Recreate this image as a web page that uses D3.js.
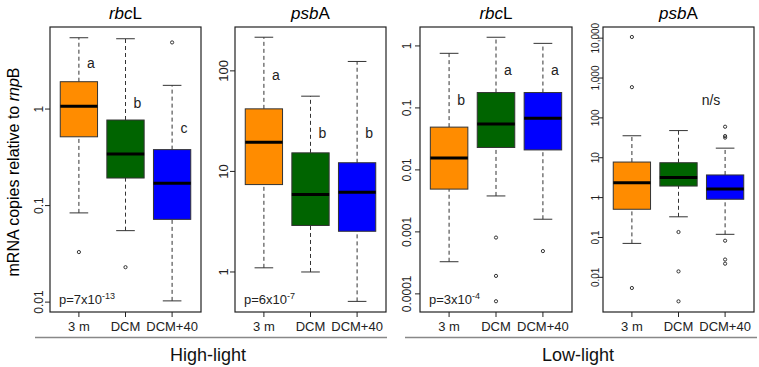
<!DOCTYPE html>
<html>
<head>
<meta charset="utf-8">
<script src="https://cdn.jsdelivr.net/npm/d3@7"></script>
<style>
  body { margin: 0; background: #fff; }
  svg { font-family: "Liberation Sans", Arial, sans-serif; }
</style>
</head>
<body>
<div id="chart"></div>
<script>
// groups and colours
const groups = ["3 m", "DCM", "DCM+40"];
const boxColors = ["#FF8C00", "#006400", "#0000FF"];

// five-number summaries per group: [lower whisker, Q1, median, Q3, upper whisker]
const rbcHigh = [[0.084, 0.516, 1.07, 1.92, 5.48], [0.055, 0.193, 0.342, 0.77, 5.35], [0.0103, 0.072, 0.17, 0.38, 1.76]];
const rbcHighOut = [[0.033], [0.023], [4.9]];
const psbHigh = [[1.1, 7.4, 19.5, 41.9, 216], [1.0, 2.9, 5.9, 15.3, 56], [0.51, 2.54, 6.2, 12.2, 124]];
const psbHighOut = [[], [], []];
const rbcLow = [[0.00033, 0.0049, 0.0155, 0.049, 0.76], [0.0038, 0.023, 0.055, 0.177, 1.38], [0.0016, 0.021, 0.068, 0.177, 1.10]];
const rbcLowOut = [[], [0.00081, 0.000195, 0.000076], [0.00049]];
const psbLow = [[0.071, 0.51, 2.35, 7.8, 35.6], [0.33, 1.95, 3.2, 7.5, 48], [0.12, 0.91, 1.65, 3.7, 17.4]];
const psbLowOut = [[10700, 590, 0.0054], [0.137, 0.0141, 0.0025], [60, 35, 32, 0.083, 0.028, 0.022]];

// significance letters: [text, group position, value]
const rbcHighLetters = [["a", 1, 3.0], ["b", 2, 1.15], ["c", 3, 0.635]];
const psbHighLetters = [["a", 1, 91], ["b", 2, 24], ["b", 3, 24]];
const rbcLowLetters = [["b", 1, 0.135], ["a", 2, 0.40], ["a", 3, 0.40]];
const psbLowLetters = [["n/s", 2.44, 280]];

const panels = [
  { left: 50, right: 201, dom: [0.0079, 7.08], ticks: [0.01, 0.1, 1], tickLab: ["0.01", "0.1", "1"], tfs: 12, toff: 11,
    stats: rbcHigh, outs: rbcHighOut, gene: ["rbc", "L"], p: ["p=7x10", "-13"], letters: rbcHighLetters },
  { left: 235, right: 386, dom: [0.40, 273], ticks: [1, 10, 100], tickLab: ["1", "10", "100"], tfs: 13, toff: 12,
    stats: psbHigh, outs: psbHighOut, gene: ["psb", "A"], p: ["p=6x10", "-7"], letters: psbHighLetters },
  { left: 420, right: 572, dom: [5.1e-5, 2.02], ticks: [0.0001, 0.001, 0.01, 0.1, 1], tickLab: ["0.0001", "0.001", "0.01", "0.1", "1"], tfs: 12, toff: 13,
    stats: rbcLow, outs: rbcLowOut, gene: ["rbc", "L"], p: ["p=3x10", "-4"], letters: rbcLowLetters },
  { left: 603, right: 754, dom: [0.00135, 19050], ticks: [0.01, 0.1, 1, 10, 100, 1000, 10000], tickLab: ["0.01", "0.1", "1", "10", "100", "1,000", "10,000"], tfs: 10, toff: 8,
    stats: psbLow, outs: psbLowOut, gene: ["psb", "A"], p: null, letters: psbLowLetters }
];

const plotTop = 27, plotBottom = 312;

const svg = d3.select("#chart").append("svg")
  .attr("width", 759).attr("height", 367);

// y axis title
const ylab = svg.append("text")
  .attr("transform", "translate(19,172) rotate(-90)")
  .attr("text-anchor", "middle")
  .style("font-size", "16px");
ylab.append("tspan").text("mRNA copies relative to ");
ylab.append("tspan").style("font-style", "italic").text("rnp");
ylab.append("tspan").text("B");

panels.forEach(pn => {
  const x = d3.scaleLinear().domain([0.38, 3.62]).range([pn.left, pn.right]);
  const y = d3.scaleLog().domain(pn.dom).range([plotBottom, plotTop]);
  const bw = (x(1.4) - x(1)); // half box width
  const g = svg.append("g");

  // frame
  g.append("rect")
    .attr("x", pn.left).attr("y", plotTop)
    .attr("width", pn.right - pn.left).attr("height", plotBottom - plotTop)
    .attr("fill", "none").attr("stroke", "#222").attr("stroke-width", 1.2);

  // title
  const t = g.append("text")
    .attr("x", (pn.left + pn.right) / 2).attr("y", 19)
    .attr("text-anchor", "middle").style("font-size", "17px");
  t.append("tspan").style("font-style", "italic").text(pn.gene[0]);
  t.append("tspan").text(pn.gene[1]);

  // y axis
  pn.ticks.forEach((v, i) => {
    g.append("line")
      .attr("x1", pn.left - 5).attr("x2", pn.left)
      .attr("y1", y(v)).attr("y2", y(v))
      .attr("stroke", "#222");
    g.append("text")
      .attr("transform", `translate(${pn.left - pn.toff},${y(v)}) rotate(-90)`)
      .attr("text-anchor", "middle").attr("dy", "0.35em")
      .style("font-size", pn.tfs + "px").attr("fill", "#222")
      .text(pn.tickLab[i]);
  });

  // x axis
  groups.forEach((name, i) => {
    g.append("line")
      .attr("x1", x(i + 1)).attr("x2", x(i + 1))
      .attr("y1", plotBottom).attr("y2", plotBottom + 5)
      .attr("stroke", "#222");
    g.append("text")
      .attr("x", x(i + 1)).attr("y", 331)
      .attr("text-anchor", "middle").style("font-size", "13px").attr("fill", "#222")
      .text(name);
  });

  // boxes
  pn.stats.forEach((s, i) => {
    const cx = x(i + 1);
    g.append("line").attr("x1", cx).attr("x2", cx).attr("y1", y(s[0])).attr("y2", y(s[1]))
      .attr("stroke", "#333").attr("stroke-dasharray", "4,3");
    g.append("line").attr("x1", cx).attr("x2", cx).attr("y1", y(s[3])).attr("y2", y(s[4]))
      .attr("stroke", "#333").attr("stroke-dasharray", "4,3");
    [s[0], s[4]].forEach(v => {
      g.append("line").attr("x1", cx - bw / 2).attr("x2", cx + bw / 2)
        .attr("y1", y(v)).attr("y2", y(v)).attr("stroke", "#333");
    });
    g.append("rect")
      .attr("x", cx - bw).attr("y", y(s[3]))
      .attr("width", bw * 2).attr("height", y(s[1]) - y(s[3]))
      .attr("fill", boxColors[i]).attr("stroke", "#333").attr("stroke-width", 1);
    g.append("line").attr("x1", cx - bw).attr("x2", cx + bw)
      .attr("y1", y(s[2])).attr("y2", y(s[2]))
      .attr("stroke", "#000").attr("stroke-width", 3);
    pn.outs[i].forEach(v => {
      g.append("circle").attr("cx", cx).attr("cy", y(v)).attr("r", 1.6)
        .attr("fill", "none").attr("stroke", "#333").attr("stroke-width", 1);
    });
  });

  // letters
  pn.letters.forEach(l => {
    g.append("text")
      .attr("x", x(l[1]) + 12).attr("y", y(l[2]))
      .attr("text-anchor", "middle").attr("dy", "0.35em")
      .style("font-size", "14px").attr("fill", "#222")
      .text(l[0]);
  });

  // p value
  if (pn.p) {
    const pt = g.append("text").attr("x", pn.left + 9).attr("y", 304)
      .style("font-size", "13px").attr("fill", "#222");
    pt.append("tspan").text(pn.p[0]);
    pt.append("tspan").attr("dy", -5).style("font-size", "9px").text(pn.p[1]);
  }
});

// group lines and labels
const groupsLight = [["High-light", 35, 387], ["Low-light", 405, 757]];
groupsLight.forEach(gl => {
  svg.append("line").attr("x1", gl[1]).attr("x2", gl[2]).attr("y1", 337.5).attr("y2", 337.5)
    .attr("stroke", "#888").attr("stroke-width", 1.5);
  svg.append("text").attr("x", (gl[1] + gl[2]) / 2 - 3).attr("y", 361)
    .attr("text-anchor", "middle").style("font-size", "18px").attr("fill", "#111")
    .text(gl[0]);
});
</script>
</body>
</html>
